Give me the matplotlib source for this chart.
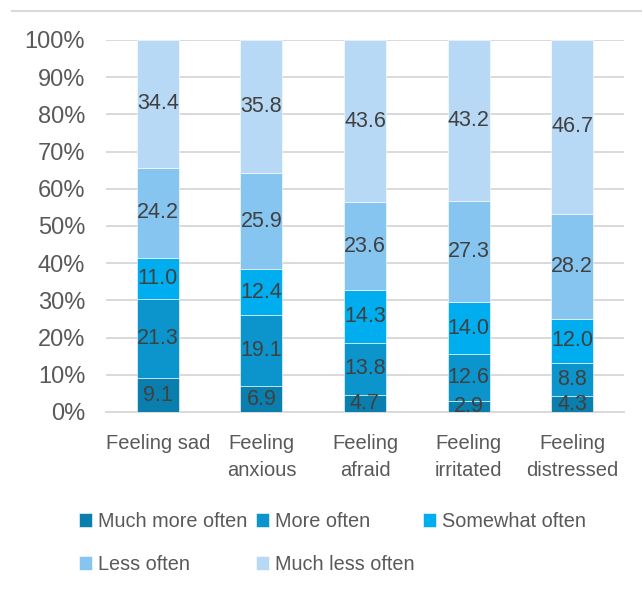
import numpy as np
import matplotlib.pyplot as plt
from matplotlib.lines import Line2D

plt.rcParams['font.family'] = ['Liberation Sans', 'DejaVu Sans']

categories = ['Feeling sad', 'Feeling\nanxious', 'Feeling\nafraid', 'Feeling\nirritated', 'Feeling\ndistressed']
series = ['Much more often', 'More often', 'Somewhat often', 'Less often', 'Much less often']
much_more = [9.1, 6.9, 4.7, 2.9, 4.3]
more = [21.3, 19.1, 13.8, 12.6, 8.8]
somewhat = [11.0, 12.4, 14.3, 14.0, 12.0]
less = [24.2, 25.9, 23.6, 27.3, 28.2]
much_less = [34.4, 35.8, 43.6, 43.2, 46.7]
colors = ['#0a7fad', '#0b95cc', '#00aeef', '#86c5f0', '#b8d9f5']

values = [much_more, more, somewhat, less, much_less]

fig = plt.figure(figsize=(6.42, 5.92), dpi=100)
ax = fig.add_axes([106/642, 1 - 412/592, (624 - 106)/642, (412 - 40)/592])

x = np.arange(len(categories))
tot = np.array([sum(col) for col in zip(*values)])
bottom = np.zeros(len(categories))
handles = []
for vals, name, c in zip(values, series, colors):
    pct = np.array(vals) / tot * 100
    bars = ax.bar(x, pct, 0.405, bottom=bottom, color=c, edgecolor='white', linewidth=0.4, label=name, zorder=3)
    handles.append(bars)
    for xi, b, p, val in zip(x, bottom, pct, vals):
        ax.text(xi, b + p / 2, '%.1f' % val, ha='center', va='center', fontsize=15.5, color='#404040', zorder=4)
    bottom += pct

ax.set_xlim(-0.5, 4.5)
ax.set_ylim(0, 100)
ax.set_yticks(np.arange(0, 101, 10))
ax.set_yticklabels(['%d%%' % t for t in range(0, 101, 10)])
ax.set_xticks(x)
ax.set_xticklabels(categories, linespacing=1.5)
ax.tick_params(axis='y', length=0, pad=15, labelsize=17, labelcolor='#595959')
ax.tick_params(axis='x', length=0, pad=16, labelsize=14.5, labelcolor='#595959')
ax.grid(axis='y', color='#d9d9d9', linewidth=1.4, zorder=0)
for s in ['top', 'right', 'left']:
    ax.spines[s].set_visible(False)
ax.spines['bottom'].set_color('#d9d9d9')
ax.spines['bottom'].set_linewidth(1.4)

# chart frame line at the top
fig.add_artist(Line2D([12/642, 1], [1 - 11/592, 1 - 11/592], color='#d9d9d9', linewidth=1.5))

order = [0, 3, 1, 4, 2]
fig.legend([handles[i] for i in order], [series[i] for i in order], ncol=3,
           loc='upper left', bbox_to_anchor=(69/642, 1 - 502/592), frameon=False,
           fontsize=14.3, labelcolor='#595959', handlelength=0.67, handleheight=0.67,
           handletextpad=0.3, columnspacing=0.42, labelspacing=1.2, borderpad=0)

fig.savefig('out.png', dpi=100)
